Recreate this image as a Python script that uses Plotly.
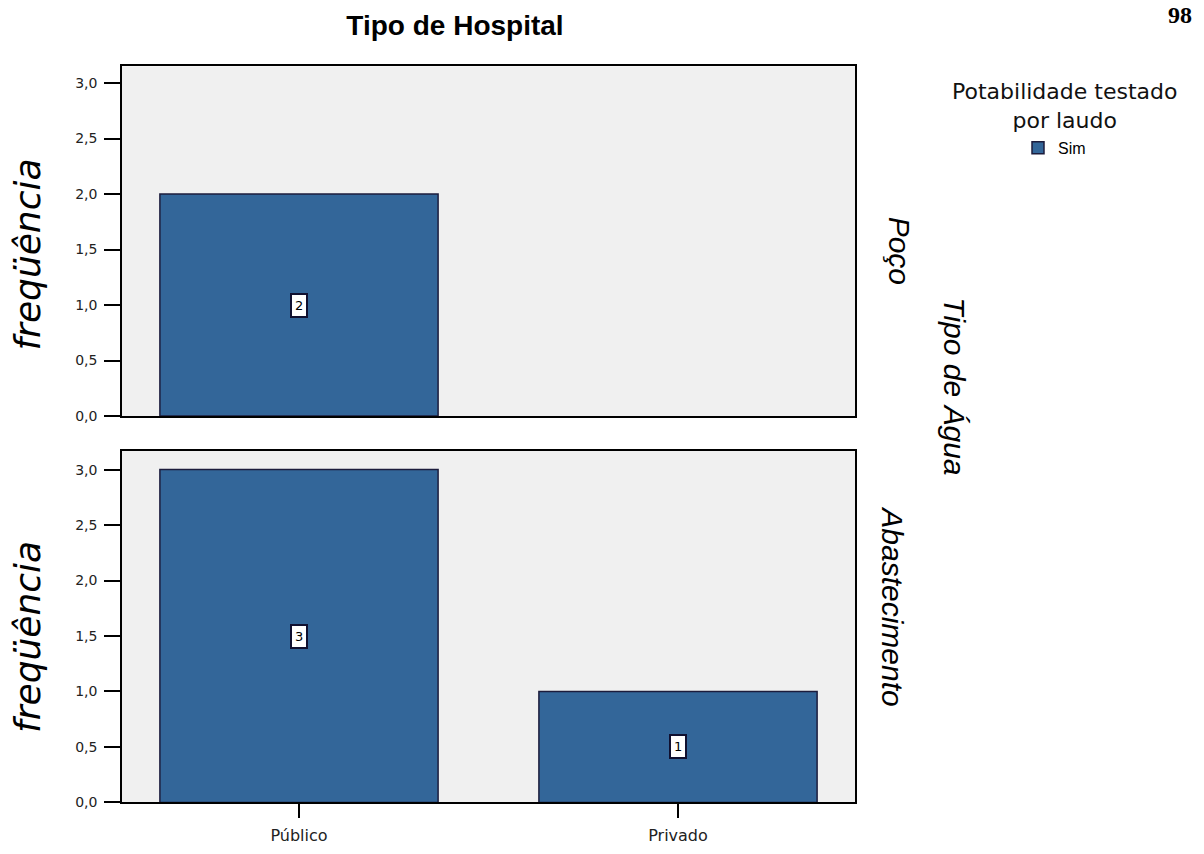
import plotly.graph_objects as go
from plotly.subplots import make_subplots

categories = ["Público", "Privado"]
poco_values = [2, None]
abast_values = [3, 1]
series_name = "Sim"
y_ticks = [0.0, 0.5, 1.0, 1.5, 2.0, 2.5, 3.0]

BAR = "#336699"
W, H = 1204, 854


def px(x):
    return x / W


def py(y):
    return 1 - y / H


fig = make_subplots(rows=2, cols=1, shared_xaxes=True)

fig.add_trace(go.Bar(x=categories, y=poco_values, name=series_name,
                     marker=dict(color=BAR, line=dict(color="#1c1c3c", width=1.5)), showlegend=True), row=1, col=1)
fig.add_trace(go.Bar(x=categories, y=abast_values, name=series_name,
                     marker=dict(color=BAR, line=dict(color="#1c1c3c", width=1.5)), showlegend=False), row=2, col=1)

# value labels
for row, vals in ((1, poco_values), (2, abast_values)):
    for c, v in zip(categories, vals):
        if v:
            fig.add_annotation(x=c, y=v / 2, text=str(v), showarrow=False, row=row, col=1,
                               font=dict(family="DejaVu Sans", size=13, color="black"),
                               bgcolor="white", bordercolor="#101030", borderwidth=2, borderpad=3)

axis_common = dict(showline=True, linecolor="black", linewidth=1.5, mirror=True,
                   ticks="outside", tickcolor="black", tickwidth=1.5,
                   showgrid=False, zeroline=False,
                   tickfont=dict(family="DejaVu Sans", size=14, color="#222222"))

fig.update_xaxes(**axis_common, ticklen=14, ticklabelstandoff=4,
                 range=[-0.467, 1.467], domain=[px(122), px(855)])
fig.update_xaxes(tickfont=dict(family="DejaVu Sans", size=16, color="#222222"), row=2, col=1)
fig.update_xaxes(showticklabels=False, ticks="", row=1, col=1)
fig.update_yaxes(**axis_common, ticklen=16, ticklabelstandoff=4, tickvals=y_ticks, tickformat=".1f")
fig.update_yaxes(range=[0, 3.15], domain=[py(420), py(67)], row=1, col=1)
fig.update_yaxes(range=[0, 3.17], domain=[py(810), py(455)], row=2, col=1)

# y-axis titles
ytitle_font = dict(family="DejaVu Sans", size=36, color="black")
for yc in (257, 643):
    fig.add_annotation(text="<i>freqüência</i>", x=px(28), y=py(yc), xref="paper", yref="paper",
                       showarrow=False, textangle=-90, xanchor="center", yanchor="middle", font=ytitle_font)

# facet labels
facet_font = dict(family="Arial", size=30, color="black")
fig.add_annotation(text="<i>Poço</i>", x=px(899), y=py(253), xref="paper", yref="paper", showarrow=False,
                   textangle=90, xanchor="center", yanchor="middle", font=facet_font)
fig.add_annotation(text="<i>Tipo de Água</i>", x=px(955), y=py(390), xref="paper", yref="paper", showarrow=False,
                   textangle=90, xanchor="center", yanchor="middle", font=facet_font)
fig.add_annotation(text="<i>Abastecimento</i>", x=px(893), y=py(612), xref="paper", yref="paper", showarrow=False,
                   textangle=90, xanchor="center", yanchor="middle", font=facet_font)

# page number
fig.add_annotation(text="<b>98</b>", x=px(1180), y=py(15), xref="paper", yref="paper", showarrow=False,
                   xanchor="center", yanchor="middle",
                   font=dict(family="Liberation Serif", size=24, color="black"))

# legend title
fig.add_annotation(text="Potabilidade testado<br>por laudo", x=px(1064), y=py(107), xref="paper", yref="paper",
                   showarrow=False, align="center", xanchor="center", yanchor="middle",
                   font=dict(family="DejaVu Sans", size=22, color="#111111"))

fig.update_layout(
    width=W, height=H,
    margin=dict(l=0, r=0, t=0, b=0),
    paper_bgcolor="white", plot_bgcolor="#f0f0f0",
    separators=",.",
    bargap=0.266,
    title=dict(text="<b>Tipo de Hospital</b>", x=px(455), xanchor="center", y=py(25), yanchor="middle",
               font=dict(family="Arial", size=28, color="black")),
    legend=dict(x=px(1018), xanchor="left", y=py(132), yanchor="top",
                font=dict(family="Arial", size=16, color="black"), bgcolor="rgba(0,0,0,0)"),
)

fig.write_html("out.html", config={"displayModeBar": False},
               post_script="document.body.style.margin='0';document.body.style.overflow='hidden';")
